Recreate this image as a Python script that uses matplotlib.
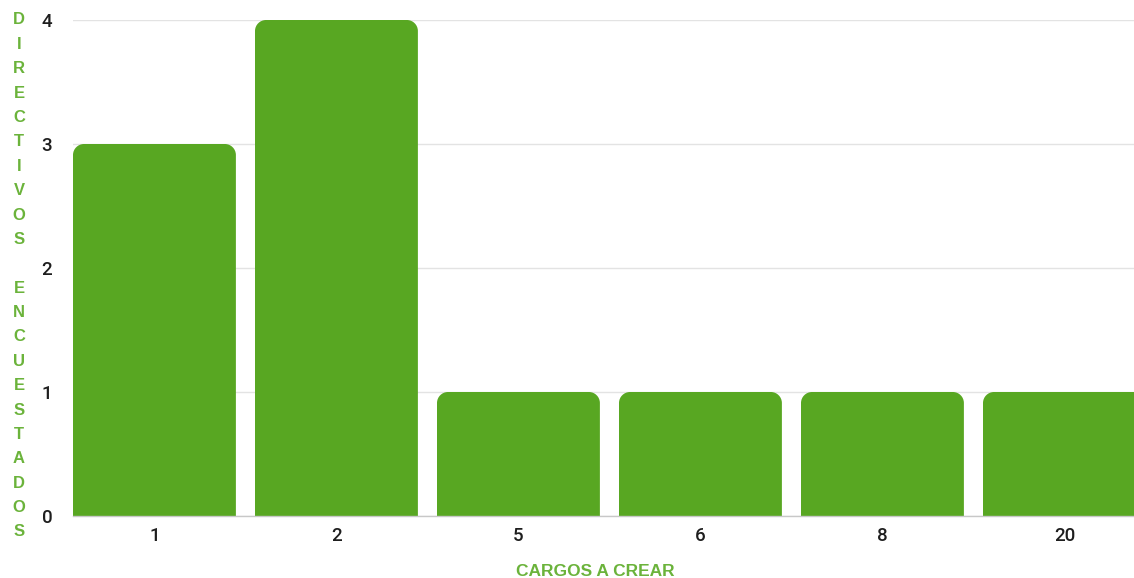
import matplotlib
matplotlib.use("Agg")
import matplotlib.pyplot as plt
from matplotlib.patches import PathPatch
from matplotlib.path import Path

categories = ["1", "2", "5", "6", "8", "20"]
counts = [3, 4, 1, 1, 1, 1]
y_ticks = [0, 1, 2, 3, 4]
x_title = "CARGOS A CREAR"
y_title = "DIRECTIVOS ENCUESTADOS"

BAR_GREEN = "#58a722"
TEXT_GREEN = "#6bb33b"

W, H, DPI = 1134, 578, 100
fig = plt.figure(figsize=(W / DPI, H / DPI), dpi=DPI)
left, right, top, bottom = 73, 1134, 20, 516
ax = fig.add_axes([left / W, (H - bottom) / H, (right - left) / W, (bottom - top) / H])

bar_w = 0.895
xmin = -bar_w / 2
px_per_unit = 182.0
xmax = xmin + (right - left) / px_per_unit
ax.set_xlim(xmin, xmax)
ax.set_ylim(0, 4)

# corner radius of ~11 px expressed in each axis' data units
rx = 11 / px_per_unit
ry = 11 * 4 / (bottom - top)
k = 0.5523  # cubic Bezier circle approximation


def rounded_top_bar(x0, w, h):
    x1 = x0 + w
    verts = [(x0, 0), (x1, 0), (x1, h - ry),
             (x1, h - ry + k * ry), (x1 - rx + k * rx, h), (x1 - rx, h),
             (x0 + rx, h),
             (x0 + rx - k * rx, h), (x0, h - ry + k * ry), (x0, h - ry),
             (x0, 0)]
    codes = [Path.MOVETO, Path.LINETO, Path.LINETO,
             Path.CURVE4, Path.CURVE4, Path.CURVE4,
             Path.LINETO,
             Path.CURVE4, Path.CURVE4, Path.CURVE4,
             Path.CLOSEPOLY]
    return Path(verts, codes)


for i, v in enumerate(counts):
    ax.add_patch(PathPatch(rounded_top_bar(i - bar_w / 2, bar_w, v),
                           facecolor=BAR_GREEN, edgecolor="none", zorder=3))

ax.set_xticks(range(len(categories)))
ax.set_xticklabels(categories)
ax.set_yticks(y_ticks)
ax.set_yticklabels([str(t) for t in y_ticks])
ax.tick_params(axis="both", length=0, labelsize=13.5, labelcolor="#1e1e1e")
ax.tick_params(axis="y", pad=15)
ax.tick_params(axis="x", pad=8)
for lab in ax.get_xticklabels() + ax.get_yticklabels():
    lab.set_fontfamily("Roboto")
    lab.set_fontweight("medium")

ax.grid(axis="y", color="#e3e3e3", linewidth=1, zorder=0)
ax.set_axisbelow(True)
for s in ["top", "right", "left"]:
    ax.spines[s].set_visible(False)
ax.spines["bottom"].set_color("#c8c8c8")
ax.spines["bottom"].set_linewidth(1)
ax.spines["bottom"].set_zorder(4)

fig.text(595 / W, 1 - 571 / H, x_title,
         ha="center", va="center", color=TEXT_GREEN, fontsize=12.5,
         fontweight="bold", fontfamily="Liberation Sans")

# vertical, one letter per line
y_start, y_end = 20, 532
step = (y_end - y_start) / (len(y_title) - 1)
for n, ch in enumerate(y_title):
    if ch == " ":
        continue
    fig.text(19 / W, 1 - (y_start + n * step) / H, ch, ha="center", va="center",
             color=TEXT_GREEN, fontsize=12, fontweight="bold",
             fontfamily="Liberation Sans")

fig.savefig("out.png", dpi=DPI)
